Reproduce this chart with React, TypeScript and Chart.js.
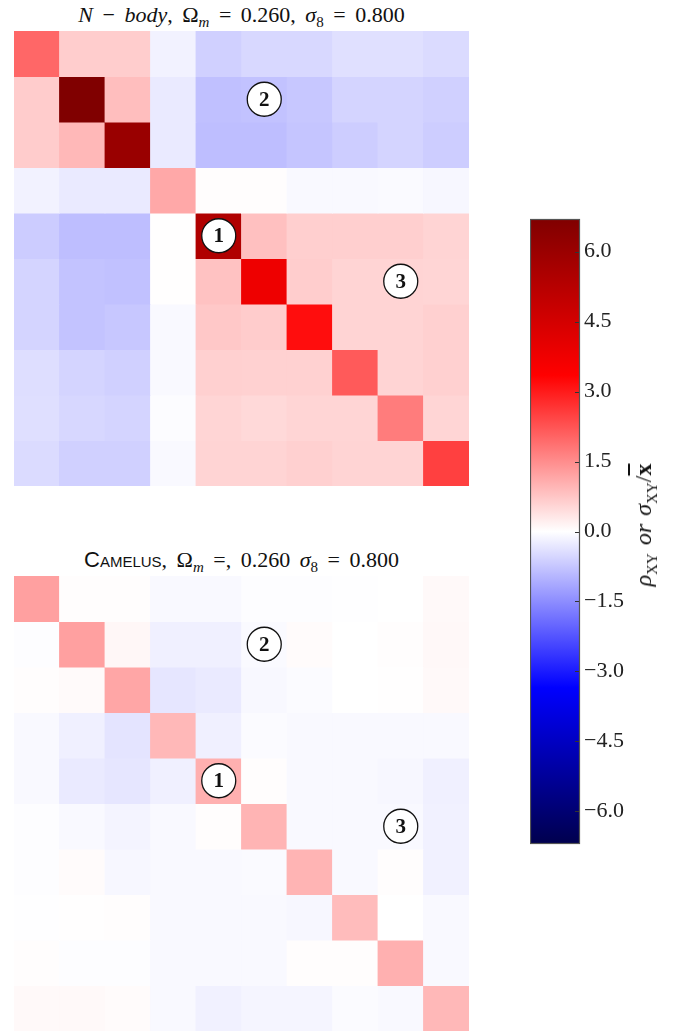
import React, { useEffect, useRef } from 'react';
import { Chart, registerables } from 'chart.js';
Chart.register(...registerables);

const VMIN = -6.7;
const VMAX = 6.7;
const columns = ['0', '1', '2', '3', '4', '5', '6', '7', '8', '9'];
const colorbarTicks = [-6.0, -4.5, -3.0, -1.5, 0.0, 1.5, 3.0, 4.5, 6.0];

// N-body correlation / covariance matrix (rows top to bottom)
const nbodyMatrix: number[][] = [
  [2.0, 0.66, 0.66, -0.17, -0.62, -0.51, -0.51, -0.41, -0.41, -0.47],
  [0.67, 6.7, 0.85, -0.27, -0.83, -0.8, -0.73, -0.57, -0.57, -0.62],
  [0.67, 0.93, 6.03, -0.27, -0.85, -0.85, -0.76, -0.66, -0.57, -0.66],
  [-0.17, -0.27, -0.27, 1.14, 0.02, 0.02, -0.08, -0.08, -0.06, -0.1],
  [-0.67, -0.86, -0.86, 0.01, 5.43, 0.83, 0.63, 0.63, 0.63, 0.57],
  [-0.57, -0.79, -0.82, 0.01, 0.8, 3.8, 0.66, 0.57, 0.57, 0.55],
  [-0.57, -0.79, -0.73, -0.08, 0.72, 0.67, 3.18, 0.57, 0.57, 0.62],
  [-0.44, -0.57, -0.62, -0.08, 0.62, 0.6, 0.6, 2.17, 0.57, 0.62],
  [-0.42, -0.53, -0.57, -0.04, 0.55, 0.5, 0.55, 0.55, 1.72, 0.55],
  [-0.47, -0.62, -0.62, -0.08, 0.57, 0.57, 0.62, 0.57, 0.57, 2.51],
];

// Camelus correlation / covariance matrix (rows top to bottom)
const camelusMatrix: number[][] = [
  [1.25, 0.03, 0.03, -0.08, -0.08, -0.02, -0.02, -0.01, 0.0, 0.08],
  [-0.03, 1.25, 0.1, -0.2, -0.2, -0.06, 0.05, 0.0, 0.02, 0.09],
  [0.02, 0.06, 1.17, -0.33, -0.28, -0.09, -0.05, 0.0, 0.01, 0.08],
  [-0.08, -0.2, -0.35, 0.93, -0.2, -0.05, -0.08, -0.08, -0.08, -0.08],
  [-0.08, -0.28, -0.33, -0.2, 1.04, 0.02, -0.08, -0.08, -0.1, -0.2],
  [-0.03, -0.08, -0.15, -0.08, 0.02, 0.98, -0.08, -0.08, -0.08, -0.18],
  [-0.02, 0.05, -0.1, -0.08, -0.08, -0.06, 0.98, -0.08, 0.02, -0.18],
  [-0.01, 0.01, 0.03, -0.08, -0.08, -0.08, -0.1, 0.88, 0.0, -0.08],
  [0.03, -0.02, -0.02, -0.08, -0.08, -0.08, 0.03, 0.03, 1.04, -0.08],
  [0.08, 0.08, 0.05, -0.08, -0.18, -0.13, -0.13, -0.05, -0.08, 0.93],
];

const annotationLabels = ['1', '2', '3'];
const annotationCols = [4, 5, 8];
const annotationRows = [4.5, 1.5, 5.5];

const SEISMIC: number[][] = [
  [0, 0, 0.3],
  [0, 0, 1],
  [1, 1, 1],
  [1, 0, 0],
  [0.5, 0, 0],
];

function rgbStr(c: number[]) {
  return `rgb(${Math.round(c[0] * 255)},${Math.round(c[1] * 255)},${Math.round(c[2] * 255)})`;
}

function seismic(v: number): string {
  const t = Math.min(1, Math.max(0, (v - VMIN) / (VMAX - VMIN)));
  const p = t * 4;
  const i = Math.min(3, Math.floor(p));
  const f = p - i;
  const a = SEISMIC[i];
  const b = SEISMIC[i + 1];
  return rgbStr([a[0] + (b[0] - a[0]) * f, a[1] + (b[1] - a[1]) * f, a[2] + (b[2] - a[2]) * f]);
}

const annotationPlugin = {
  id: 'circledLabels',
  afterDatasetsDraw(chart: any) {
    const { ctx, scales } = chart;
    ctx.save();
    annotationLabels.forEach((lab, k) => {
      const x = scales.x.getPixelForValue(annotationCols[k]);
      const y = scales.y.getPixelForValue(annotationRows[k]);
      ctx.beginPath();
      ctx.arc(x, y, 17, 0, Math.PI * 2);
      ctx.fillStyle = '#ffffff';
      ctx.fill();
      ctx.lineWidth = 1.3;
      ctx.strokeStyle = '#111111';
      ctx.stroke();
      ctx.fillStyle = '#111111';
      ctx.font = 'bold 21px "Liberation Serif", serif';
      ctx.textAlign = 'center';
      ctx.textBaseline = 'middle';
      ctx.fillText(lab, x, y + 1);
    });
    ctx.restore();
  },
};

function Heatmap({ matrix, style }: { matrix: number[][]; style: React.CSSProperties }) {
  const ref = useRef<HTMLCanvasElement | null>(null);
  useEffect(() => {
    if (!ref.current) return;
    const chart = new Chart(ref.current, {
      type: 'bar',
      data: {
        labels: columns,
        datasets: matrix.map((row, r) => ({
          label: `row ${r}`,
          data: row.map(() => [r, r + 1]),
          backgroundColor: row.map((v) => seismic(v)),
          borderWidth: 0,
          grouped: false,
          categoryPercentage: 1,
          barPercentage: 1,
          inflateAmount: 0.4,
        })) as any,
      },
      options: {
        animation: false,
        responsive: false,
        maintainAspectRatio: false,
        layout: { padding: 0 },
        plugins: { legend: { display: false }, tooltip: { enabled: false }, title: { display: false } },
        scales: {
          x: { display: false, offset: true },
          y: { display: false, min: 0, max: 10, reverse: true },
        },
      },
      plugins: [annotationPlugin],
    });
    return () => chart.destroy();
  }, [matrix]);
  return <canvas ref={ref} width={455} height={455} style={{ position: 'absolute', ...style, width: 455, height: 455 }} />;
}

const cbTickPlugin = {
  id: 'cbTicks',
  afterDatasetsDraw(chart: any) {
    const { ctx, chartArea, scales } = chart;
    ctx.save();
    ctx.strokeStyle = '#333333';
    ctx.lineWidth = 1;
    colorbarTicks.forEach((t) => {
      const y = Math.round(scales.y.getPixelForValue(t)) + 0.5;
      ctx.beginPath();
      ctx.moveTo(chartArea.right - 5, y);
      ctx.lineTo(chartArea.right, y);
      ctx.stroke();
    });
    ctx.strokeStyle = '#555555';
    ctx.lineWidth = 1.2;
    ctx.strokeRect(chartArea.left + 0.5, chartArea.top + 0.5, chartArea.right - chartArea.left - 1, chartArea.bottom - chartArea.top - 1);
    ctx.restore();
  },
};

function Colorbar() {
  const ref = useRef<HTMLCanvasElement | null>(null);
  useEffect(() => {
    if (!ref.current) return;
    const chart = new Chart(ref.current, {
      type: 'bar',
      data: {
        labels: ['cb'],
        datasets: [
          {
            label: 'colorbar',
            data: [[VMIN, VMAX]] as any,
            categoryPercentage: 1,
            barPercentage: 1,
            borderWidth: 0,
            backgroundColor: (c: any) => {
              const ch = c.chart;
              if (!ch.chartArea) return '#ffffff';
              const y0 = ch.scales.y.getPixelForValue(VMIN);
              const y1 = ch.scales.y.getPixelForValue(VMAX);
              const g = ch.ctx.createLinearGradient(0, y0, 0, y1);
              SEISMIC.forEach((s, i) => g.addColorStop(i / 4, rgbStr(s)));
              return g;
            },
          },
        ],
      },
      options: {
        animation: false,
        responsive: false,
        maintainAspectRatio: false,
        layout: { padding: { left: 0, right: 0, top: 19, bottom: 20 } },
        plugins: { legend: { display: false }, tooltip: { enabled: false } },
        scales: {
          x: { display: false, offset: true },
          y: {
            position: 'right',
            min: VMIN,
            max: VMAX,
            grid: { display: false, drawTicks: false, tickLength: 0 },
            border: { display: false },
            afterBuildTicks: (scale: any) => {
              scale.ticks = colorbarTicks.map((v) => ({ value: v }));
            },
            afterFit: (scale: any) => {
              scale.width = 70;
            },
            ticks: {
              padding: 4,
              color: '#222222',
              font: { family: '"Liberation Serif", serif', size: 22 },
              callback: (v: any) => {
                const n = Number(v);
                const s = Math.abs(n).toFixed(1);
                return n < 0 ? '\u2212' + s : s;
              },
            },
          },
        },
      },
      plugins: [cbTickPlugin],
    });
    return () => chart.destroy();
  }, []);
  return <canvas ref={ref} width={120} height={664} style={{ position: 'absolute', left: 530, top: 200, width: 120, height: 664 }} />;
}

const titleStyle: React.CSSProperties = {
  position: 'absolute',
  left: 14,
  width: 455,
  textAlign: 'center',
  fontFamily: '"Liberation Serif", serif',
  fontSize: 22,
  wordSpacing: 4,
  color: '#111',
  whiteSpace: 'nowrap',
  lineHeight: '26px',
};

const subStyle: React.CSSProperties = { fontSize: 15, lineHeight: 0 };

export default function App() {
  return (
    <div style={{ position: 'absolute', left: 0, top: 0, width: 678, height: 1032, background: '#fff', overflow: 'hidden' }}>
      <div style={{ ...titleStyle, top: 2 }}>
        <i>N</i> − <i>body</i>, Ω<sub style={subStyle}><i>m</i></sub> = 0.260, <i>σ</i>
        <sub style={subStyle}>8</sub> = 0.800
      </div>
      <Heatmap matrix={nbodyMatrix} style={{ left: 14, top: 31 }} />
      <div style={{ ...titleStyle, top: 547 }}>
        <span style={{ fontFamily: '"Liberation Sans", sans-serif', fontVariant: 'small-caps', fontSize: 22, wordSpacing: 0 }}>Camelus</span>, Ω
        <sub style={subStyle}><i>m</i></sub> =, 0.260 <i>σ</i>
        <sub style={subStyle}>8</sub> = 0.800
      </div>
      <Heatmap matrix={camelusMatrix} style={{ left: 14, top: 576 }} />
      <Colorbar />
      <div
        style={{
          position: 'absolute',
          left: 643,
          top: 525,
          transform: 'translate(-50%, -50%) rotate(-90deg)',
          fontFamily: '"Liberation Serif", serif',
          fontSize: 24,
          lineHeight: '28px',
          color: '#111',
          whiteSpace: 'nowrap',
          wordSpacing: 2,
        }}
      >
        <i>ρ</i>
        <sub style={{ fontSize: 15, lineHeight: 0 }}>XY</sub> <i>or</i> <i>σ</i>
        <sub style={{ fontSize: 15, lineHeight: 0 }}>XY</sub>/<b style={{ textDecoration: 'overline' }}>x</b>
      </div>
    </div>
  );
}
